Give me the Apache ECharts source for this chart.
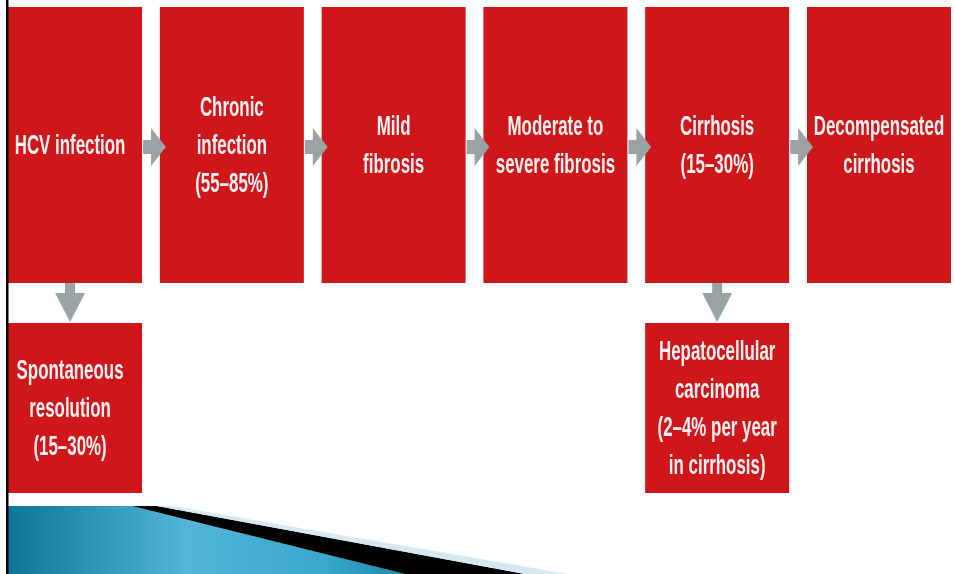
<!DOCTYPE html>
<html>
<head>
<meta charset="utf-8">
<script src="https://cdn.jsdelivr.net/npm/echarts@6/dist/echarts.min.js"></script>
<style>html,body{margin:0;padding:0;background:#fff;}#c{width:955px;height:574px;}</style>
</head>
<body>
<div id="c"></div>
<script>
// ---- data ----
const nodeLabels = [
  'HCV infection',
  'Chronic\ninfection\n(55–85%)',
  'Mild\nfibrosis',
  'Moderate to\nsevere fibrosis',
  'Cirrhosis\n(15–30%)',
  'Decompensated\ncirrhosis',
  'Spontaneous\nresolution\n(15–30%)',
  'Hepatocellular\ncarcinoma\n(2–4% per year\nin cirrhosis)'
];
const nodeCols = [0, 1, 2, 3, 4, 5, 0, 4];
const nodeRows = [0, 0, 0, 0, 0, 0, 1, 1];
const linkFrom = [0, 1, 2, 3, 4, 0, 4];
const linkTo   = [1, 2, 3, 4, 5, 6, 7];

// ---- rendering ----
const RED = '#CF161B';
const GREY = '#9AA3A4';
const FONT = 'bold 28px "Liberation Sans Narrow", "Liberation Sans", Arial, sans-serif';
const BOX_W = 0.89;
function rowHeight(r) { return r === 0 ? 276 : 170; }

// condense the font to match the narrow face of the original
const mctx = document.createElement('canvas').getContext('2d');
mctx.font = FONT;
const SCALE_X = 107 / mctx.measureText('Spontaneous').width;

const nodeData = nodeCols.map((c, i) => [c, nodeRows[i], i]);
const linkData = linkFrom.map((f, i) => [nodeCols[f], nodeRows[f], nodeCols[linkTo[i]], nodeRows[linkTo[i]]]);

const chart = echarts.init(document.getElementById('c'), null, {renderer: 'canvas'});
chart.setOption({
  backgroundColor: '#ffffff',
  animation: false,
  grid: {left: 0, width: 955, top: 13.5, height: 526, containLabel: false},
  xAxis: {type: 'value', min: -0.433, max: 5.47, show: false},
  yAxis: {type: 'value', min: -0.5, max: 1.5, inverse: true, show: false},
  series: [
    {
      type: 'custom',
      name: 'nodes',
      z: 2,
      clip: false,
      encode: {x: 0, y: 1},
      data: nodeData,
      renderItem: function (params, api) {
        const c = api.coord([api.value(0), api.value(1)]);
        const w = api.size([BOX_W, 0])[0];
        const h = rowHeight(api.value(1));
        return {
          type: 'group',
          children: [
            {type: 'rect', shape: {x: c[0] - w / 2, y: c[1] - h / 2, width: w, height: h},
             style: {fill: RED}},
            {type: 'group', x: c[0], y: c[1] + 1, scaleX: SCALE_X, scaleY: 1,
             children: [
               {type: 'text', x: 0, y: 0,
                style: {text: nodeLabels[api.value(2)], fill: '#FFF2F2', font: FONT,
                        align: 'center', verticalAlign: 'middle', lineHeight: 38}}
             ]}
          ]
        };
      }
    },
    {
      type: 'custom',
      name: 'links',
      z: 3,
      clip: false,
      encode: {x: [0, 2], y: [1, 3]},
      data: linkData,
      renderItem: function (params, api) {
        const p1 = api.coord([api.value(0), api.value(1)]);
        const p2 = api.coord([api.value(2), api.value(3)]);
        const w = api.size([BOX_W, 0])[0];
        let pts;
        if (api.value(1) === api.value(3)) {
          const x0 = p1[0] + w / 2 + 1;
          const x1 = p2[0] - w / 2 + 6;
          const xs = x0 + 8;
          const y = p1[1] + 2;
          pts = [[x0, y - 7], [xs, y - 7], [xs, y - 19], [x1, y], [xs, y + 19], [xs, y + 7], [x0, y + 7]];
        } else {
          const y0 = p1[1] + rowHeight(api.value(1)) / 2;
          const y1 = p2[1] - rowHeight(api.value(3)) / 2 - 1;
          const ys = y0 + 10;
          const x = p1[0];
          pts = [[x - 5, y0], [x + 5, y0], [x + 5, ys], [x + 15, ys], [x, y1], [x - 15, ys], [x - 5, ys]];
        }
        return {type: 'polygon', shape: {points: pts}, style: {fill: GREY}};
      }
    }
  ],
  graphic: [
    {type: 'polygon', z: 50, shape: {points: [[8, 506], [132, 506], [405, 574], [8, 574]]},
     style: {fill: {type: 'linear', x: 0, y: 0, x2: 1, y2: 0, colorStops: [
       {offset: 0, color: '#0B7696'}, {offset: 0.45, color: '#52B6D9'}, {offset: 0.8, color: '#3AA7CF'}, {offset: 1, color: '#1E88AE'}]}}},
    {type: 'polygon', z: 51, shape: {points: [[132, 506], [157, 506], [525, 574], [405, 574]]},
     style: {fill: '#000000'}},
    {type: 'polygon', z: 51, shape: {points: [[157, 506], [172, 506], [568, 574], [525, 574]]},
     style: {fill: '#D6E9F0'}},
    {type: 'rect', z: 100, shape: {x: 0, y: 0, width: 6, height: 574}, style: {fill: '#ffffff'}},
    {type: 'rect', z: 101, shape: {x: 6, y: 0, width: 2.5, height: 574}, style: {fill: '#000000'}}
  ]
});
</script>
</body>
</html>
